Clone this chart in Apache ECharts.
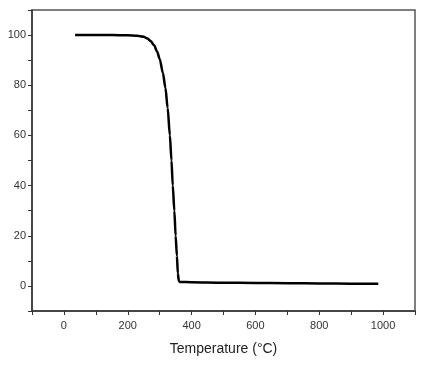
<!DOCTYPE html>
<html><head><meta charset="utf-8">
<script src="https://cdn.jsdelivr.net/npm/echarts@6/dist/echarts.min.js"></script>
<style>html,body{margin:0;padding:0;background:#fff}#c{width:427px;height:369px}</style>
</head><body><div id="c"></div>
<script>
var temperature = [35, 100, 150, 200, 230, 250, 262, 272, 282, 292, 300, 310, 318, 325, 332, 337, 341, 346, 350, 354, 357, 360, 363, 400, 500, 600, 700, 800, 900, 985];
var massPercent = [100, 100, 100, 99.9, 99.7, 99.3, 98.6, 97.6, 96, 93.5, 90.5, 85, 79, 71, 60, 50, 40, 30, 20, 12, 5, 2, 1.6, 1.5, 1.3, 1.2, 1.1, 1.0, 0.9, 0.9];
var xTickLabels = [0, 200, 400, 600, 800, 1000];
var yTickLabels = [0, 20, 40, 60, 80, 100];

var data = temperature.map(function (t, i) { return [t, massPercent[i]]; });
var chart = echarts.init(document.getElementById('c'));
chart.setOption({
  animation: false,
  grid: { left: 32, right: 12, top: 10, bottom: 58, show: true, borderColor: '#555', borderWidth: 1.5, backgroundColor: 'transparent' },
  xAxis: {
    type: 'value', min: -100, max: 1100, interval: 100,
    name: 'Temperature (\u00B0C)', nameLocation: 'middle', nameGap: 31,
    nameTextStyle: { fontFamily: 'Liberation Sans', fontSize: 14, color: '#222' },
    axisLine: { onZero: false, lineStyle: { color: '#333', width: 1.5 } },
    axisTick: { length: 4, lineStyle: { color: '#333' } },
    splitLine: { show: false },
    axisLabel: {
      fontFamily: 'Liberation Sans', fontSize: 11, color: '#333', margin: 9,
      formatter: function (v) { return xTickLabels.indexOf(v) >= 0 ? String(v) : ''; }
    }
  },
  yAxis: {
    type: 'value', min: -10, max: 110, interval: 10,
    axisLine: { show: true, onZero: false, lineStyle: { color: '#333', width: 1.5 } },
    axisTick: { show: true, length: 4, lineStyle: { color: '#333' } },
    splitLine: { show: false },
    axisLabel: {
      fontFamily: 'Liberation Sans', fontSize: 11, color: '#333', margin: 6,
      formatter: function (v) { return yTickLabels.indexOf(v) >= 0 ? String(v) : ''; }
    }
  },
  series: [{
    type: 'line', data: data, showSymbol: false, smooth: 0.3, smoothMonotone: 'x',
    lineStyle: { color: '#000', width: 2.5 }
  }]
});
</script></body></html>
